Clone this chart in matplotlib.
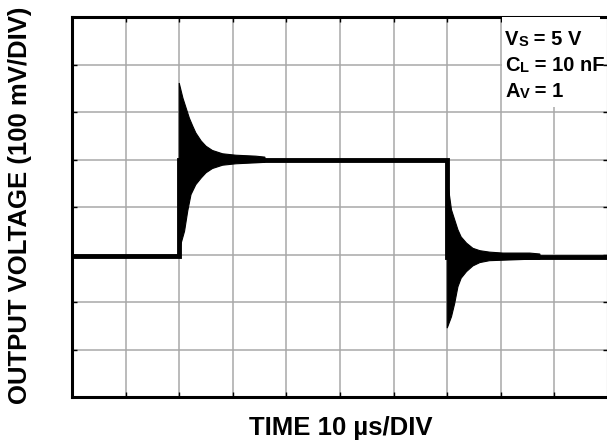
import matplotlib
matplotlib.use("Agg")
from matplotlib import pyplot as plt

plt.rcParams["font.family"] = ["Liberation Sans", "DejaVu Sans"]
plt.rcParams["font.weight"] = "bold"

# main trace (time and voltage in divisions)
trace_t = [0.0, 2.0, 2.0, 7.0, 7.0, 10.0]
trace_v = [2.97, 2.97, 4.99, 4.99, 2.95, 2.95]

# ringing envelope after the rising edge
rise_t_up = [2.0, 2.0, 2.07, 2.13, 2.19, 2.25, 2.31, 2.41, 2.50, 2.62, 2.81, 3.06, 3.43, 3.60]
rise_v_up = [2.96, 6.61, 6.29, 6.08, 5.87, 5.71, 5.56, 5.39, 5.28, 5.19, 5.12, 5.09, 5.07, 5.05]
rise_t_lo = [2.0, 2.03, 2.10, 2.16, 2.22, 2.31, 2.41, 2.50, 2.62, 2.81, 3.06, 3.43, 3.60]
rise_v_lo = [2.96, 3.21, 3.49, 3.92, 4.26, 4.47, 4.61, 4.72, 4.81, 4.88, 4.91, 4.93, 4.94]

# ringing envelope after the falling edge
fall_t_up = [7.0, 7.01, 7.08, 7.14, 7.20, 7.26, 7.36, 7.48, 7.61, 7.79, 8.04, 8.54, 8.73]
fall_v_up = [4.99, 4.51, 3.94, 3.73, 3.52, 3.37, 3.24, 3.13, 3.08, 3.05, 3.03, 3.03, 3.01]
fall_t_lo = [7.0, 7.0, 7.08, 7.14, 7.20, 7.26, 7.36, 7.48, 7.61, 7.79, 8.04, 8.54, 8.73]
fall_v_lo = [4.99, 1.45, 1.69, 1.97, 2.32, 2.50, 2.64, 2.76, 2.83, 2.87, 2.88, 2.90, 2.90]

W, H = 607, 443
fig = plt.figure(figsize=(W / 100, H / 100), dpi=100)
ax = fig.add_axes([72 / W, 46 / H, 536 / W, 380 / H])
ax.set_xlim(0, 10)
ax.set_ylim(0, 8)

ax.set_xticks(range(11))
ax.set_yticks(range(9))
ax.set_xticklabels([])
ax.set_yticklabels([])
ax.tick_params(direction="in", length=3.6, width=1, color="black",
               top=True, right=True)
ax.grid(True, color="#a8a8a8", linewidth=1.1)
ax.set_axisbelow(True)
for s in ax.spines.values():
    s.set_linewidth(2.2)

# envelopes
ax.fill(rise_t_up + rise_t_lo[::-1], rise_v_up + rise_v_lo[::-1],
        facecolor="black", edgecolor="black", linewidth=0.8, zorder=3)
ax.fill(fall_t_up + fall_t_lo[::-1], fall_v_up + fall_v_lo[::-1],
        facecolor="black", edgecolor="black", linewidth=0.8, zorder=3)
ax.plot(trace_t, trace_v, color="black", linewidth=3.5, zorder=4,
        solid_joinstyle="miter")

# white box for conditions
ax.add_patch(plt.Rectangle((8.03, 6.1), 1.82, 1.9, facecolor="white",
                           edgecolor="none", zorder=5))

big = 14.5
small = 10.5
lines = [("V", "S", " = 5 V", 7.42), ("C", "L", " = 10 nF", 6.86),
         ("A", "V", " = 1", 6.32)]
for a, b, c, yy in lines:
    t1 = ax.text(8.08, yy, a, fontsize=big, fontweight="bold",
                 va="baseline", ha="left", zorder=6)
    t2 = ax.annotate(b, xy=(1, 0), xycoords=t1, fontsize=small,
                     fontweight="bold", va="bottom", ha="left", zorder=6)
    ax.annotate(c, xy=(1, 0), xycoords=t2, fontsize=big,
                fontweight="bold", va="bottom", ha="left", zorder=6)

fig.text(20 / W, 1 - 205 / H, "OUTPUT VOLTAGE (100 mV/DIV)", rotation=90,
         fontsize=18.5, fontweight="bold", ha="center", va="center")
fig.text(341 / W, 1 - 435 / H, "TIME 10 µs/DIV", fontsize=18.5,
         fontweight="bold", ha="center", va="baseline")

plt.savefig("out.png", dpi=100)
